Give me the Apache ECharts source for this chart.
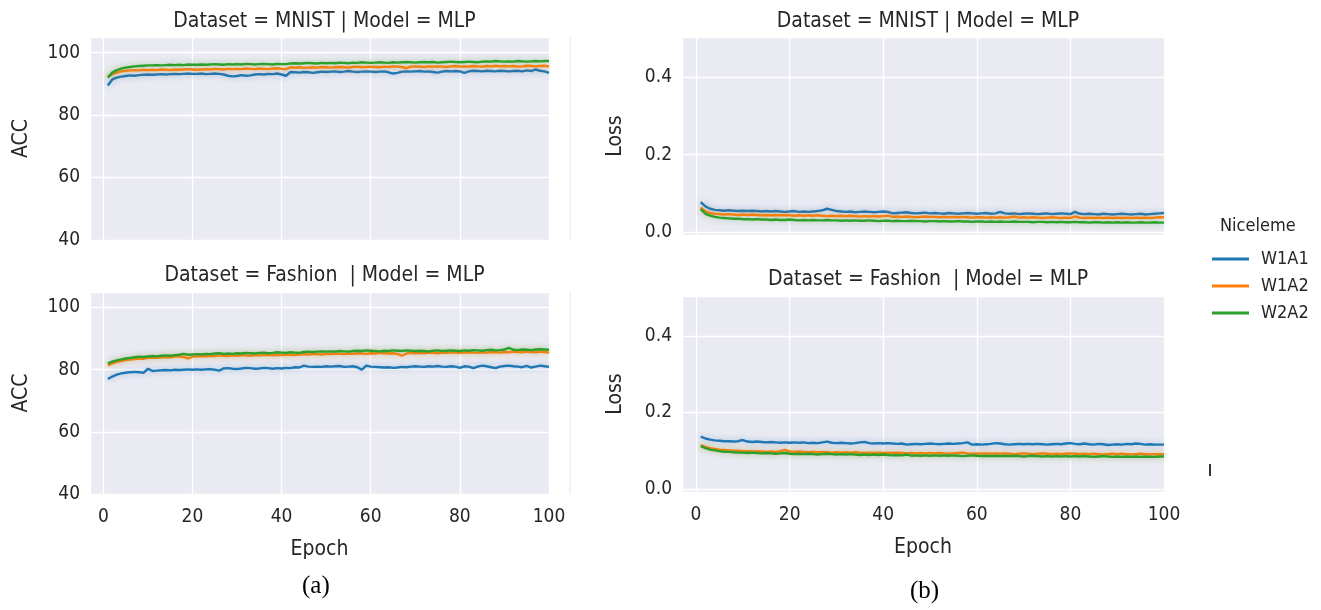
<!DOCTYPE html>
<html>
<head>
<meta charset="utf-8">
<script src="https://cdn.jsdelivr.net/npm/echarts@6/dist/echarts.min.js"></script>
<style>
  html, body { margin: 0; padding: 0; background: #fff; }
  #chart { width: 1321px; height: 610px; }
</style>
</head>
<body>
<div id="chart"></div>
<script>
// quantisation settings shown in the legend
var quantNames = ['W1A1', 'W1A2', 'W2A2'];
var panelTitles = [
  'Dataset = MNIST | Model = MLP',
  'Dataset = Fashion  | Model = MLP',
  'Dataset = MNIST | Model = MLP',
  'Dataset = Fashion  | Model = MLP'
];
var accTicks = [40, 60, 80, 100];
var lossTicks = [0.0, 0.2, 0.4];

// MNIST accuracy per epoch (1..100)
var mnistAccW1A1 = [
  89.5, 91.4, 92.0, 92.3, 92.5, 92.7, 92.6, 92.8, 92.9, 93.0,
  92.9, 93.0, 93.1, 93.0, 93.1, 93.2, 93.1, 93.2, 93.3, 93.2,
  93.2, 93.3, 93.1, 93.2, 93.3, 93.2, 93.0, 92.6, 92.4, 92.5,
  92.8, 92.6, 92.7, 93.0, 93.1, 93.0, 93.2, 93.1, 93.3, 93.0,
  92.6, 93.8, 93.7, 93.6, 93.8, 93.7, 93.5, 93.7, 93.9, 93.8,
  93.9, 94.0, 93.8, 93.9, 94.1, 93.9, 93.8, 93.9, 94.0, 93.9,
  93.8, 93.9, 94.0, 93.7, 93.3, 93.5, 93.9, 94.0, 93.9, 94.0,
  94.1, 93.9, 94.0, 93.8, 93.6, 93.9, 94.1, 94.0, 94.1, 94.0,
  93.5, 94.0, 94.2, 94.1, 94.0, 94.2, 94.1, 94.0, 94.2, 94.1,
  94.0, 94.1, 94.2, 94.0, 94.3, 94.1, 94.6, 94.2, 94.0, 93.5
];
var mnistAccW1A2 = [
  92.3, 93.1, 93.6, 94.0, 94.2, 94.3, 94.4, 94.3, 94.5, 94.4,
  94.5, 94.4, 94.6, 94.5, 94.4, 94.6, 94.5, 94.6, 94.7, 94.6,
  94.5, 94.6, 94.7, 94.6, 94.8, 94.7, 94.6, 94.8, 94.7, 94.8,
  94.7, 94.9, 94.8, 94.7, 94.9, 94.8, 94.7, 94.9, 95.0, 94.8,
  94.7, 95.3, 95.2, 95.3, 95.1, 95.2, 95.3, 95.2, 95.4, 95.3,
  95.2, 95.3, 95.4, 95.3, 95.2, 95.4, 95.5, 95.3, 95.4, 95.5,
  95.4, 95.3, 95.5, 95.4, 95.6, 95.5, 95.4, 95.0, 95.5, 95.6,
  95.5, 95.4, 95.6, 95.5, 95.6, 95.5, 95.4, 95.6, 95.7, 95.5,
  95.6, 95.5, 95.7, 95.6, 95.5, 95.7, 95.6, 95.8, 95.6, 95.7,
  95.6, 95.7, 95.5, 95.6, 95.8, 95.7, 95.6, 95.7, 95.8, 95.5
];
var mnistAccW2A2 = [
  92.0, 93.6, 94.4, 94.9, 95.2, 95.4, 95.6, 95.7, 95.8, 95.9,
  95.9, 96.0, 95.9, 96.0, 96.1, 96.0, 96.1, 96.0, 96.2, 96.1,
  96.1, 96.2, 96.1, 96.2, 96.3, 96.2, 96.1, 96.3, 96.2, 96.3,
  96.2, 96.4, 96.3, 96.2, 96.3, 96.4, 96.3, 96.2, 96.4, 96.3,
  96.3, 96.5, 96.6, 96.5, 96.6, 96.7, 96.6, 96.5, 96.7, 96.6,
  96.7, 96.6, 96.8, 96.7, 96.6, 96.8, 96.7, 96.9, 96.8, 96.7,
  96.8, 96.9, 96.8, 96.7, 96.9, 96.8, 96.9, 97.0, 96.9, 96.8,
  96.9, 97.0, 96.9, 97.0, 96.8, 96.9, 97.0, 97.1, 97.0, 96.9,
  97.0, 97.1, 97.0, 96.9, 97.1, 97.2, 97.1, 97.3, 97.2, 97.1,
  97.2, 97.1, 97.3, 97.2, 97.1, 97.2, 97.3, 97.2, 97.3, 97.3
];

// Fashion accuracy per epoch
var fashionAccW1A1 = [
  77.0, 77.8, 78.4, 78.8, 79.0, 79.2, 79.3, 79.2, 79.0, 80.3,
  79.6, 79.7, 79.8, 79.9, 79.8, 80.0, 79.9, 80.0, 80.1, 80.0,
  80.1, 80.0, 80.1, 80.2, 80.0, 79.7, 80.4, 80.5, 80.3, 80.2,
  80.4, 80.6, 80.5, 80.3, 80.4, 80.6, 80.5, 80.3, 80.5, 80.4,
  80.6, 80.5, 80.8, 80.7, 81.3, 81.0, 80.9, 81.0, 80.9, 81.1,
  81.0, 81.1, 81.2, 80.9, 81.0, 81.1, 80.8, 80.0, 81.3, 81.0,
  80.9, 80.8, 80.7, 80.8, 80.6, 80.7, 80.9, 80.8, 81.0, 81.1,
  81.0, 80.9, 81.1, 81.0, 81.2, 81.0, 80.9, 81.1, 81.0, 80.6,
  81.1, 81.0, 80.5, 81.0, 81.3, 81.1, 80.8, 80.5, 81.0, 81.2,
  81.3, 81.1, 81.0, 80.8, 81.2, 80.7, 81.0, 81.3, 81.1, 80.9
];
var fashionAccW1A2 = [
  81.4, 82.0, 82.5, 82.8, 83.1, 83.3, 83.4, 83.6, 83.5, 83.8,
  83.9, 83.8, 84.0, 84.1, 84.0, 84.2, 84.3, 84.1, 83.6, 84.2,
  84.3, 84.4, 84.3, 84.5, 84.4, 84.6, 84.5, 84.4, 84.6, 84.5,
  84.7, 84.6, 84.5, 84.7, 84.6, 84.8, 84.7, 84.6, 84.8, 84.7,
  84.9, 84.8, 84.7, 84.9, 85.0, 84.9, 85.1, 85.0, 84.9, 85.1,
  85.0, 85.2, 85.1, 85.0, 85.2, 85.1, 85.3, 85.2, 85.1, 85.3,
  85.2, 85.4, 85.3, 85.2, 85.3, 85.1, 84.5, 85.2, 85.4, 85.3,
  85.4, 85.3, 85.5, 85.4, 85.3, 85.5, 85.4, 85.6, 85.5, 85.4,
  85.5, 85.6, 85.5, 85.4, 85.6, 85.5, 85.7, 85.6, 85.5, 85.7,
  85.6, 85.8, 85.7, 85.6, 85.8, 85.7, 85.6, 85.8, 85.7, 85.5
];
var fashionAccW2A2 = [
  82.0, 82.6, 83.0, 83.3, 83.6, 83.8, 84.0, 84.2, 84.1, 84.3,
  84.4, 84.3, 84.5, 84.6, 84.5, 84.7, 84.8, 85.1, 84.8, 84.9,
  85.0, 84.9, 85.1, 85.0, 85.2, 85.3, 85.1, 85.2, 85.1, 85.3,
  85.2, 85.4, 85.3, 85.2, 85.4, 85.5, 85.3, 85.4, 85.6, 85.5,
  85.4, 85.6, 85.5, 85.4, 85.7, 85.8, 85.7, 85.8, 85.9, 85.8,
  85.9, 85.8, 86.0, 85.9, 85.8, 86.0, 86.1, 86.0, 86.2, 86.1,
  86.0, 85.9, 86.1, 86.0, 86.2, 86.1, 86.0, 86.2, 86.1, 86.0,
  86.1, 86.0, 85.9, 86.1, 86.2, 86.0, 86.1, 86.2, 86.1, 86.0,
  86.2, 86.1, 86.3, 86.2, 86.1, 86.3, 86.4, 86.2, 86.3, 86.5,
  87.0, 86.4, 86.3, 86.5, 86.4, 86.3, 86.5, 86.6, 86.5, 86.4
];

// MNIST loss per epoch
var mnistLossW1A1 = [
  0.077, 0.066, 0.060, 0.057, 0.056, 0.055, 0.056, 0.055, 0.054, 0.055,
  0.054, 0.055, 0.054, 0.053, 0.054, 0.053, 0.054, 0.053, 0.052, 0.053,
  0.054, 0.052, 0.053, 0.052, 0.053, 0.054, 0.056, 0.060, 0.057, 0.054,
  0.053, 0.052, 0.053, 0.051, 0.052, 0.053, 0.052, 0.051, 0.052, 0.053,
  0.052, 0.048, 0.049, 0.050, 0.051, 0.049, 0.048, 0.049, 0.050, 0.048,
  0.049, 0.048, 0.047, 0.049, 0.048, 0.047, 0.048, 0.049, 0.048, 0.047,
  0.048, 0.049, 0.047, 0.048, 0.052, 0.048, 0.047, 0.048, 0.046, 0.047,
  0.048, 0.047, 0.046, 0.047, 0.048, 0.046, 0.047, 0.048, 0.047, 0.046,
  0.052, 0.047, 0.046, 0.047, 0.046, 0.045, 0.047, 0.046, 0.045, 0.046,
  0.047, 0.046, 0.045, 0.046, 0.047, 0.045, 0.046, 0.047, 0.048, 0.049
];
var mnistLossW1A2 = [
  0.063, 0.053, 0.049, 0.047, 0.046, 0.045, 0.046, 0.045, 0.044, 0.045,
  0.044, 0.045, 0.044, 0.043, 0.044, 0.043, 0.044, 0.043, 0.044, 0.043,
  0.042, 0.043, 0.042, 0.043, 0.042, 0.043, 0.042, 0.041, 0.042, 0.041,
  0.042, 0.041, 0.042, 0.041, 0.040, 0.041, 0.040, 0.041, 0.040, 0.041,
  0.042, 0.039, 0.040, 0.039, 0.040, 0.039, 0.038, 0.039, 0.040, 0.039,
  0.039, 0.038, 0.039, 0.038, 0.039, 0.038, 0.039, 0.038, 0.037, 0.038,
  0.038, 0.037, 0.038, 0.037, 0.038, 0.037, 0.038, 0.040, 0.037, 0.038,
  0.037, 0.038, 0.037, 0.036, 0.037, 0.038, 0.037, 0.036, 0.037, 0.036,
  0.040, 0.037, 0.036, 0.037, 0.036, 0.037, 0.036, 0.037, 0.036, 0.037,
  0.036, 0.037, 0.036, 0.037, 0.036, 0.037, 0.036, 0.037, 0.038, 0.038
];
var mnistLossW2A2 = [
  0.059, 0.047, 0.042, 0.039, 0.037, 0.036, 0.035, 0.034, 0.034, 0.033,
  0.033, 0.032, 0.033, 0.032, 0.032, 0.031, 0.032, 0.031, 0.031, 0.032,
  0.031, 0.030, 0.031, 0.030, 0.031, 0.030, 0.030, 0.031, 0.030, 0.030,
  0.029, 0.030, 0.029, 0.030, 0.029, 0.029, 0.030, 0.029, 0.028, 0.029,
  0.029, 0.028, 0.029, 0.028, 0.028, 0.029, 0.028, 0.028, 0.027, 0.028,
  0.028, 0.027, 0.028, 0.027, 0.027, 0.028, 0.027, 0.027, 0.026, 0.027,
  0.027, 0.026, 0.027, 0.026, 0.027, 0.026, 0.026, 0.027, 0.026, 0.026,
  0.026, 0.025, 0.026, 0.026, 0.025, 0.026, 0.025, 0.026, 0.025, 0.025,
  0.026, 0.025, 0.025, 0.024, 0.025, 0.025, 0.024, 0.025, 0.024, 0.025,
  0.024, 0.025, 0.024, 0.024, 0.025, 0.024, 0.024, 0.025, 0.024, 0.024
];

// Fashion loss per epoch
var fashionLossW1A1 = [
  0.137, 0.132, 0.129, 0.127, 0.126, 0.125, 0.125, 0.124, 0.125, 0.128,
  0.124, 0.123, 0.124, 0.123, 0.122, 0.123, 0.122, 0.121, 0.122, 0.121,
  0.122, 0.121, 0.122, 0.120, 0.121, 0.120, 0.122, 0.124, 0.121, 0.120,
  0.121, 0.120, 0.119, 0.120, 0.122, 0.123, 0.120, 0.119, 0.120, 0.119,
  0.120, 0.119, 0.118, 0.119, 0.116, 0.117, 0.118, 0.117, 0.118, 0.119,
  0.118, 0.117, 0.118, 0.119, 0.118, 0.119, 0.120, 0.122, 0.116, 0.117,
  0.116, 0.117, 0.118, 0.120, 0.119, 0.117, 0.116, 0.117, 0.118, 0.117,
  0.118, 0.117, 0.118, 0.117, 0.116, 0.117, 0.118, 0.117, 0.119, 0.120,
  0.118, 0.117, 0.119, 0.117, 0.116, 0.118, 0.117, 0.115, 0.116, 0.117,
  0.116, 0.118, 0.117, 0.119, 0.118, 0.116, 0.117, 0.116, 0.116, 0.116
];
var fashionLossW1A2 = [
  0.115, 0.110, 0.107, 0.105, 0.103, 0.102, 0.101, 0.100, 0.100, 0.099,
  0.099, 0.098, 0.099, 0.098, 0.097, 0.098, 0.097, 0.099, 0.102, 0.098,
  0.097, 0.098, 0.097, 0.096, 0.097, 0.096, 0.097, 0.096, 0.095, 0.096,
  0.095, 0.096, 0.095, 0.096, 0.095, 0.094, 0.095, 0.094, 0.095, 0.094,
  0.095, 0.094, 0.095, 0.094, 0.093, 0.094, 0.093, 0.094, 0.093, 0.094,
  0.093, 0.094, 0.093, 0.092, 0.093, 0.094, 0.095, 0.093, 0.092, 0.093,
  0.092, 0.093, 0.092, 0.093, 0.092, 0.093, 0.092, 0.091, 0.092, 0.093,
  0.092, 0.091, 0.092, 0.093, 0.092, 0.091, 0.092, 0.091, 0.092, 0.093,
  0.092, 0.091, 0.092, 0.091, 0.092, 0.091, 0.090, 0.091, 0.092, 0.091,
  0.092, 0.091, 0.090, 0.091, 0.092, 0.091, 0.090, 0.091, 0.091, 0.091
];
var fashionLossW2A2 = [
  0.112, 0.107, 0.103, 0.101, 0.099, 0.097, 0.097, 0.096, 0.095, 0.095,
  0.094, 0.095, 0.094, 0.093, 0.094, 0.093, 0.092, 0.093, 0.094, 0.092,
  0.091, 0.092, 0.091, 0.092, 0.091, 0.090, 0.091, 0.092, 0.091, 0.090,
  0.091, 0.090, 0.091, 0.090, 0.089, 0.090, 0.089, 0.090, 0.089, 0.090,
  0.089, 0.088, 0.089, 0.088, 0.090, 0.087, 0.088, 0.087, 0.088, 0.087,
  0.088, 0.087, 0.088, 0.087, 0.088, 0.087, 0.086, 0.087, 0.088, 0.087,
  0.086, 0.087, 0.086, 0.087, 0.086, 0.087, 0.086, 0.087, 0.086, 0.085,
  0.086, 0.087, 0.086, 0.085, 0.086, 0.085, 0.086, 0.085, 0.086, 0.085,
  0.086, 0.085, 0.086, 0.085, 0.084, 0.085, 0.086, 0.085, 0.084, 0.085,
  0.084, 0.085, 0.084, 0.085, 0.084, 0.085, 0.084, 0.084, 0.085, 0.085
];

var colors = ['#1f77b4', '#ff7f0e', '#2ca02c'];
var shadows = ['rgba(31,119,180,0.4)', 'rgba(255,127,14,0.4)', 'rgba(44,160,44,0.4)'];
var FONT = '"DejaVu Sans Condensed", "DejaVu Sans", sans-serif';
var TXT = '#262626';

// panel order: MNIST acc, Fashion acc, MNIST loss, Fashion loss
var panelData = [
  [mnistAccW1A1, mnistAccW1A2, mnistAccW2A2],
  [fashionAccW1A1, fashionAccW1A2, fashionAccW2A2],
  [mnistLossW1A1, mnistLossW1A2, mnistLossW2A2],
  [fashionLossW1A1, fashionLossW1A2, fashionLossW2A2]
];

var grids = [
  { left: 90, top: 37, width: 459, height: 203 },
  { left: 90, top: 292, width: 459, height: 202 },
  { left: 682, top: 37, width: 482, height: 198 },
  { left: 682, top: 296, width: 482, height: 196 }
];
grids.forEach(function (g) {
  g.show = true;
  g.backgroundColor = '#eaeaf2';
  g.borderWidth = 0;
  g.containLabel = false;
});

var splitLine = { show: true, lineStyle: { color: '#ffffff', width: 1.3 } };

var xAxes = [0, 1, 2, 3].map(function (i) {
  var bottom = (i === 1 || i === 3);
  return {
    type: 'value',
    gridIndex: i,
    min: -3,
    max: 100,
    splitNumber: 5,
    axisLine: { show: false },
    axisTick: { show: false },
    splitLine: splitLine,
    axisLabel: {
      show: bottom, showMinLabel: false, margin: 14,
      fontSize: 19, color: TXT, fontFamily: FONT
    },
    name: bottom ? 'Epoch' : '',
    nameLocation: 'middle',
    nameGap: 45,
    nameTextStyle: { fontSize: 21, color: TXT, fontFamily: FONT }
  };
});

var yAxes = [0, 1, 2, 3].map(function (i) {
  var acc = i < 2;
  var ax = {
    type: 'value',
    gridIndex: i,
    axisLine: { show: false },
    axisTick: { show: false },
    splitLine: splitLine,
    axisLabel: {
      margin: 10, fontSize: 19, color: TXT, fontFamily: FONT,
      showMaxLabel: false, showMinLabel: acc
    },
    name: acc ? 'ACC' : 'Loss',
    nameLocation: 'middle',
    nameGap: acc ? 58 : 56,
    nameTextStyle: { fontSize: 21, color: TXT, fontFamily: FONT }
  };
  if (acc) {
    ax.min = accTicks[0];
    ax.max = 105;
    ax.interval = accTicks[1] - accTicks[0];
  } else {
    ax.min = -0.008;
    ax.max = 0.505;
    ax.splitNumber = 3;
    ax.axisLabel.formatter = function (v) { return v.toFixed(1); };
  }
  return ax;
});

var series = [];
panelData.forEach(function (arrs, p) {
  arrs.forEach(function (arr, q) {
    series.push({
      type: 'line',
      name: quantNames[q],
      xAxisIndex: p,
      yAxisIndex: p,
      data: arr.map(function (v, k) { return [k + 1, v]; }),
      showSymbol: false,
      symbol: 'none',
      color: colors[q],
      lineStyle: { width: 2.4, color: colors[q], shadowColor: shadows[q], shadowBlur: 6 },
      emphasis: { disabled: true },
      z: 2 + q
    });
  });
});

var titles = panelTitles.map(function (t, i) {
  var g = grids[i];
  return {
    text: t,
    left: g.left + g.width / 2,
    top: g.top - (i % 2 === 0 ? 31 : 32),
    textAlign: 'center',
    textStyle: { fontSize: 21, fontWeight: 'normal', color: TXT, fontFamily: FONT }
  };
});

var chartDom = document.getElementById('chart');
var myChart = echarts.init(chartDom, null, { renderer: 'canvas' });
var option = {
  animation: false,
  backgroundColor: '#ffffff',
  title: titles,
  grid: grids,
  xAxis: xAxes,
  yAxis: yAxes,
  legend: {
    orient: 'vertical',
    left: 1207,
    top: 244,
    icon: 'rect',
    itemWidth: 37,
    itemHeight: 3,
    itemGap: 7,
    data: quantNames,
    textStyle: { fontSize: 18, color: TXT, fontFamily: FONT, padding: [0, 0, 0, 7], lineHeight: 20 }
  },
  graphic: [
    { type: 'text', left: 1220, top: 217,
      style: { text: 'Niceleme', fontSize: 18, fill: TXT, fontFamily: FONT } },
    { type: 'text', left: 302, top: 574,
      style: { text: '(a)', fontSize: 25, fill: '#000', fontFamily: '"Liberation Serif", serif' } },
    { type: 'text', left: 910, top: 579,
      style: { text: '(b)', fontSize: 25, fill: '#000', fontFamily: '"Liberation Serif", serif' } },
    { type: 'line', shape: { x1: 570, y1: 37, x2: 570, y2: 240 }, style: { stroke: '#e6e6ee', lineWidth: 1 } },
    { type: 'line', shape: { x1: 570, y1: 292, x2: 570, y2: 494 }, style: { stroke: '#e6e6ee', lineWidth: 1 } },
    { type: 'rect', shape: { x: 1209, y: 464, width: 2, height: 12 }, style: { fill: '#333' } }
  ],
  series: series
};

option && myChart.setOption(option);
</script>
</body>
</html>
